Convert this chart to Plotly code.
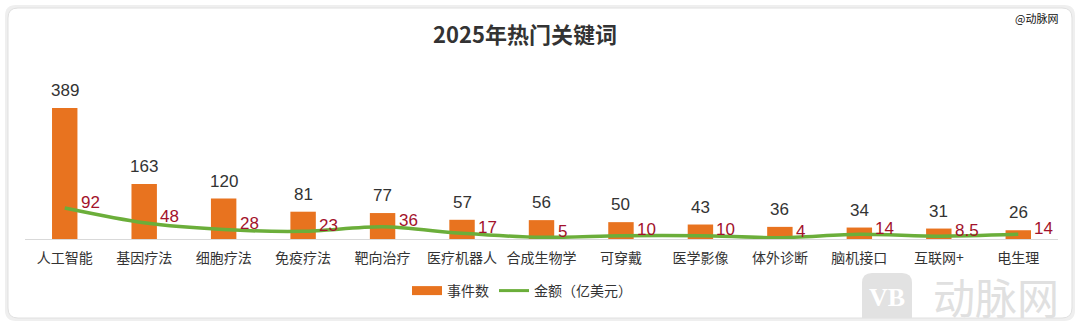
import plotly.graph_objects as go

# 关键词、事件数与融资金额
categories = ["人工智能", "基因疗法", "细胞疗法", "免疫疗法", "靶向治疗", "医疗机器人",
              "合成生物学", "可穿戴", "医学影像", "体外诊断", "脑机接口", "互联网+", "电生理"]
event_counts = [389, 163, 120, 81, 77, 57, 56, 50, 43, 36, 34, 31, 26]
amounts = [92, 48, 28, 23, 36, 17, 5, 10, 10, 4, 14, 8.5, 14]
amount_labels = ["92", "48", "28", "23", "36", "17", "5", "10", "10", "4", "14", "8.5", "14"]

FONT = "Liberation Sans, Arial, Noto Sans CJK SC, sans-serif"
CJK = "Noto Sans CJK SC"
ORANGE = "#E8731F"
GREEN = "#6BAE3A"
DARK_RED = "#A3122B"

W, H = 1080, 326
ml, mr, mt, mb = 25, 22, 70, 87
PW, PH = W - ml - mr, H - mt - mb


def px_x(x):
    return (x - ml) / PW


def px_y(y):
    return (H - mb - y) / PH


fig = go.Figure()

fig.add_trace(go.Bar(
    x=categories, y=event_counts, name="事件数", showlegend=False,
    marker=dict(color=ORANGE, line=dict(width=0)),
    width=0.32,
))

fig.add_trace(go.Scatter(
    x=categories, y=amounts, name="金额（亿美元）", showlegend=False,
    mode="lines", line=dict(color=GREEN, width=3.5, shape="spline", smoothing=0.8),
    cliponaxis=False,
))

# 图例条目
fig.add_trace(go.Scatter(x=[None], y=[None], mode="lines", name="事件数",
                         line=dict(color=ORANGE, width=9)))
fig.add_trace(go.Scatter(x=[None], y=[None], mode="lines", name="金额（亿美元）",
                         line=dict(color=GREEN, width=3)))

# 事件数标注（柱顶上方）
for c, v in zip(categories, event_counts):
    fig.add_annotation(x=c, y=v, text=str(v), showarrow=False, xanchor="center", yanchor="bottom",
                       yshift=6, font=dict(size=17, color="#333333", family=FONT))

# 金额数值标注（点的右上方）
for c, v, t in zip(categories, amounts, amount_labels):
    fig.add_annotation(x=c, y=v, text=t, showarrow=False, xanchor="left", yanchor="middle",
                       xshift=14, yshift=6, font=dict(size=17, color=DARK_RED, family=FONT))

# 卡片背景与阴影
shadow_path = "M 16,5 L 1064,5 Q 1075,5 1075,16 L 1075,310 Q 1075,321 1064,321 L 16,321 Q 5,321 5,310 L 5,16 Q 5,5 16,5 Z"
card_path = "M 18,8 L 1062,8 Q 1072,8 1072,18 L 1072,308 Q 1072,318 1062,318 L 18,318 Q 8,318 8,308 L 8,18 Q 8,8 18,8 Z"
logo_path = "M 872,273 L 902,273 Q 912,273 912,283 L 912,318 L 862,318 L 862,283 Q 862,273 872,273 Z"


def to_paper(path):
    out = []
    for tok in path.split():
        if "," in tok:
            a, b = tok.split(",")
            out.append(f"{px_x(float(a)):.5f},{px_y(float(b)):.5f}")
        else:
            out.append(tok)
    return " ".join(out)


fig.add_shape(type="path", xref="paper", yref="paper", path=to_paper(shadow_path),
              fillcolor="#efefef", line=dict(width=0), layer="below")
fig.add_shape(type="path", xref="paper", yref="paper", path=to_paper(card_path),
              fillcolor="white", line=dict(color="#e0e0e0", width=1), layer="below")

# 右下角水印
fig.add_shape(type="path", xref="paper", yref="paper", path=to_paper(logo_path),
              fillcolor="#e2e2e2", line=dict(width=0), layer="below")
fig.add_annotation(xref="paper", yref="paper", x=px_x(887), y=px_y(297), xanchor="center",
                   yanchor="middle", text="<b>VB</b>", showarrow=False,
                   font=dict(size=26, color="white", family="Liberation Serif"))
fig.add_annotation(xref="paper", yref="paper", x=px_x(996), y=px_y(295), xanchor="center",
                   yanchor="middle", text="动脉网", showarrow=False,
                   font=dict(size=42, color="#e0e0e0", family=CJK))

# 右上角署名
fig.add_annotation(xref="paper", yref="paper", x=px_x(1060), y=px_y(18), xanchor="right",
                   yanchor="middle", text="@动脉网", showarrow=False,
                   font=dict(size=11, color="#111111", family=CJK))

fig.update_layout(
    width=W, height=H,
    margin=dict(l=ml, r=mr, t=mt, b=mb),
    paper_bgcolor="white", plot_bgcolor="rgba(0,0,0,0)",
    title=dict(text="<b>2025年热门关键词</b>", x=525 / W, xanchor="center", y=1 - 35 / H,
               yanchor="middle", font=dict(size=22, color="#333333", family=CJK)),
    font=dict(family=FONT, color="#333333"),
    showlegend=True,
    legend=dict(orientation="h", x=px_x(522), xanchor="center", y=px_y(291), yanchor="middle",
                font=dict(size=14, color="#333333", family=CJK),
                bgcolor="rgba(0,0,0,0)", itemwidth=30, tracegroupgap=0),
    bargap=0.68,
)
fig.update_xaxes(showline=True, linecolor="#d9d9d9", linewidth=1, ticks="",
                 tickfont=dict(size=14, color="#333333", family=CJK), ticklabelstandoff=6,
                 showgrid=False, zeroline=False)
fig.update_yaxes(range=[0, PH / 0.337], visible=False, showgrid=False, zeroline=False)

fig.write_html("out.html")
